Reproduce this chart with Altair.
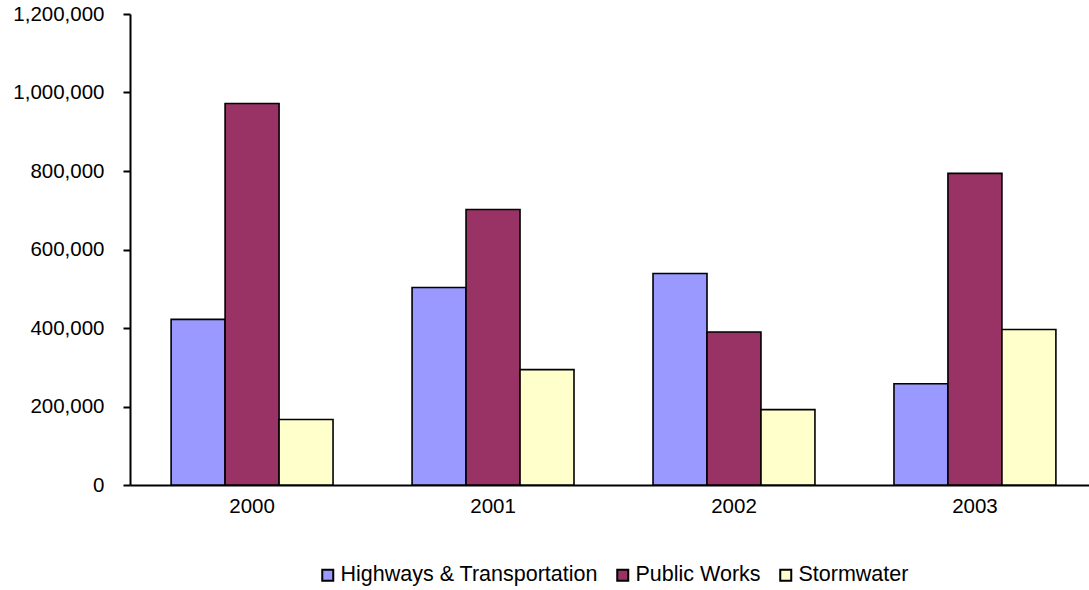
import altair as alt
import pandas as pd

years = ["2000", "2001", "2002", "2003"]
series = ["Highways & Transportation", "Public Works", "Stormwater"]
highways = [422000, 503000, 539000, 258000]
public_works = [972000, 702000, 390000, 794000]
stormwater = [167000, 294000, 192000, 396000]
colors = ["#9999FF", "#993366", "#FFFFCC"]
y_ticks = [0, 200000, 400000, 600000, 800000, 1000000, 1200000]

rows = []
for i, yr in enumerate(years):
    for s, vals in zip(series, [highways, public_works, stormwater]):
        rows.append({"year": yr, "series": s, "value": vals[i]})
df = pd.DataFrame(rows)

FONT = "Liberation Sans"

chart = alt.Chart(df).mark_bar(stroke="black", strokeWidth=1.6).encode(
    x=alt.X(
        "year:N", sort=years,
        scale=alt.Scale(paddingInner=0.328, paddingOuter=0.154, align=0.554),
        axis=alt.Axis(title=None, labelAngle=0, ticks=False, labelPadding=11,
                      labelFontSize=20.5, labelFont=FONT, labelColor="black",
                      domainColor="black", domainWidth=2),
    ),
    xOffset=alt.XOffset("series:N", sort=series,
                        scale=alt.Scale(paddingInner=0, paddingOuter=0)),
    y=alt.Y(
        "value:Q",
        scale=alt.Scale(domain=[0, 1200000], nice=False),
        axis=alt.Axis(title=None, values=y_ticks, format=",.0f", grid=False,
                      tickSize=7, tickWidth=2, tickColor="black",
                      labelPadding=19, labelFontSize=20.5, labelFont=FONT,
                      labelColor="black", domainColor="black", domainWidth=2),
    ),
    color=alt.Color(
        "series:N", sort=series,
        scale=alt.Scale(domain=series, range=colors),
        legend=alt.Legend(title=None, orient="none", legendX=187, legendY=550,
                          direction="horizontal", symbolType="square",
                          symbolSize=121, symbolStrokeColor="black",
                          symbolStrokeWidth=2, labelFontSize=21.5,
                          labelFont=FONT, labelColor="black", labelOffset=2,
                          labelLimit=400, columnPadding=14),
    ),
).properties(
    width=959, height=471, autosize="none",
    padding={"left": 130, "top": 14, "right": 0, "bottom": 105},
).configure_view(stroke=None)

chart.save("out.html", embed_options={"renderer": "svg", "actions": False})
